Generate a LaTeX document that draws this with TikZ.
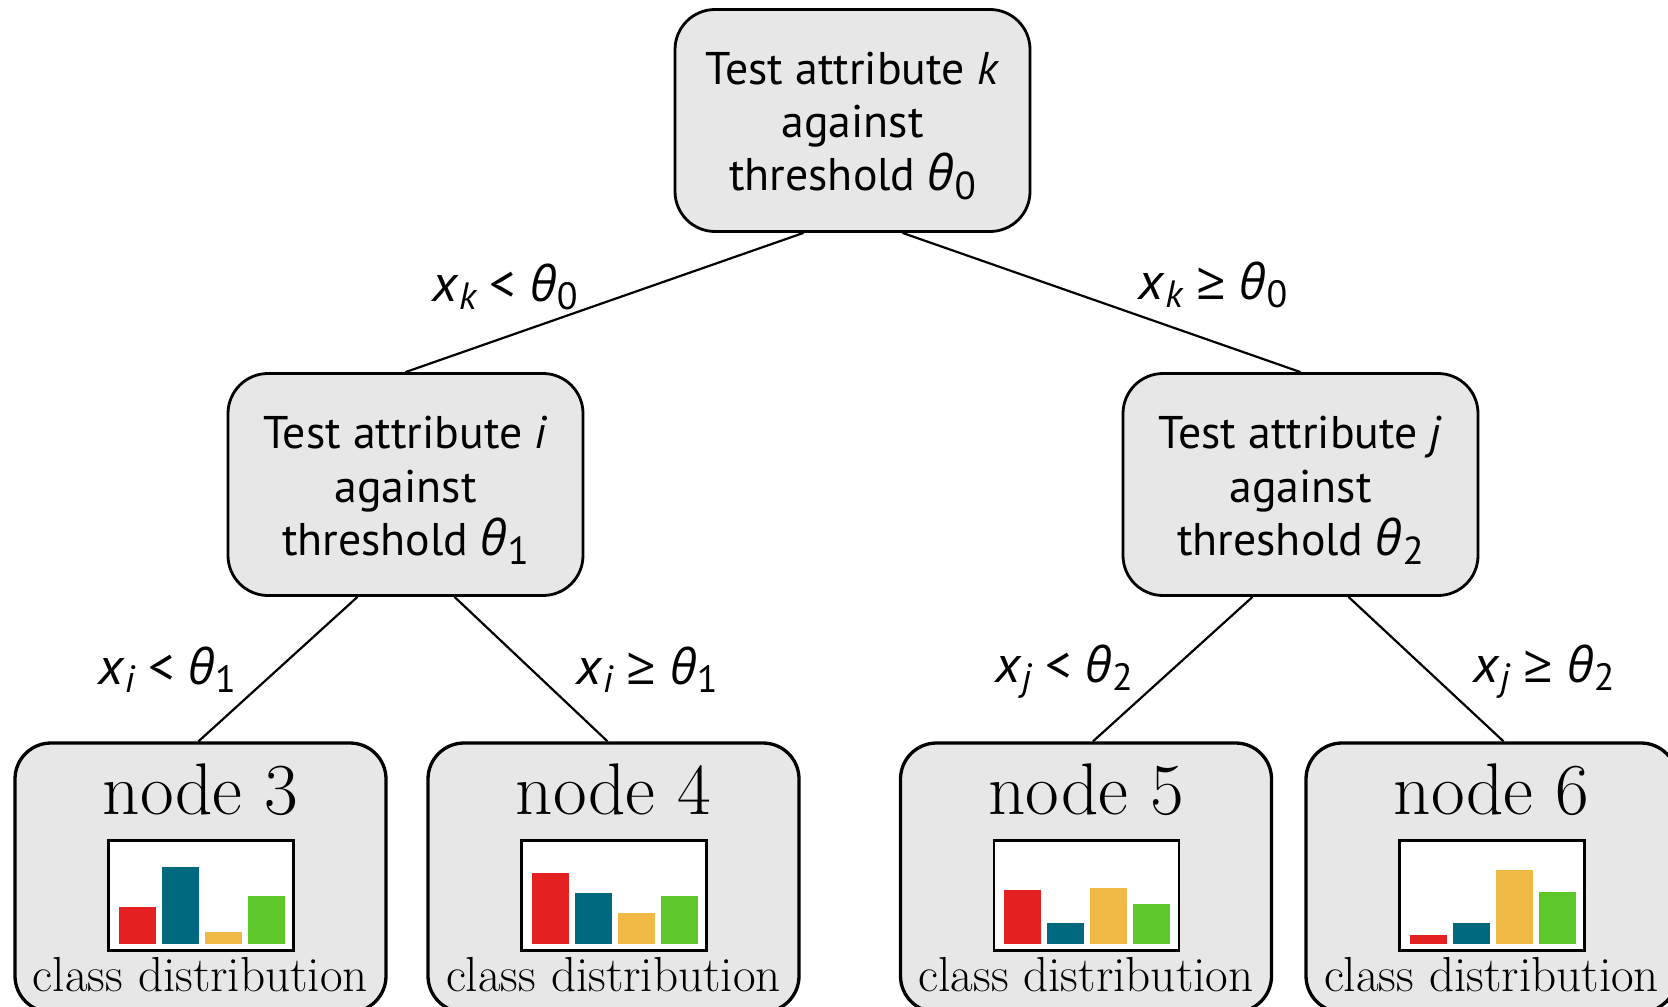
\documentclass[tikz,border=0pt]{standalone}
\usepackage{fontspec}
\usetikzlibrary{calc}
\newfontfamily\ptsans{PT Sans}
\newfontfamily\grk{Open Sans}
\definecolor{boxgray}{HTML}{E7E7E7}
\definecolor{barred}{HTML}{E42120}
\definecolor{barteal}{HTML}{00687F}
\definecolor{baryellow}{HTML}{F0B945}
\definecolor{bargreen}{HTML}{5EC72A}
% theta with subscript inside the test boxes
\newcommand\boxtheta[1]{{\grk\itshape\fontsize{24.5}{24.5}\selectfont θ}\raisebox{-4.5pt}{\fontsize{19.5}{19.5}\selectfont #1}}
% theta and variables with subscripts on the branch labels
\newcommand\lbltheta[1]{{\grk\itshape\fontsize{24.5}{24.5}\selectfont θ}\raisebox{-4pt}{\fontsize{19}{19}\selectfont #1}}
\newcommand\lblx[1]{\textit{x}\raisebox{-4pt}{\fontsize{19}{19}\selectfont\itshape #1}}
\newcommand\geqsym{{\grk ≥}}
% strut that lowers the three-line text a little inside a test box
\newcommand\topstrut{\rule{0pt}{22pt}}
% small bar chart of the class distribution inside a leaf
\newcommand\classchart[5]{%
  \draw[chartframe] ($(#1.north)+(-92,99)$) rectangle ($(#1.north)+(93,209)$);
  \fill[barred]    ($(#1.north)+(-82,203)$) rectangle ($(#1.north)+(-45,203-#2)$);
  \fill[barteal]   ($(#1.north)+(-39,203)$) rectangle ($(#1.north)+(-2,203-#3)$);
  \fill[baryellow] ($(#1.north)+(4,203)$)   rectangle ($(#1.north)+(41,203-#4)$);
  \fill[bargreen]  ($(#1.north)+(47,203)$)  rectangle ($(#1.north)+(84,203-#5)$);
}
\newcommand\leafcontent[2]{%
  \node[anchor=base, font=\fontsize{36.6}{36.6}\selectfont, inner sep=0pt] (#1title) at ($(#1.north)+(0,73)$) {#2};
  \node[anchor=base, font=\fontsize{24.6}{24.6}\selectfont, inner sep=0pt] (#1caption) at ($(#1.north)+(0,250)$) {class distribution};
}
\tikzset{
  testbox/.style={draw, line width=1.4pt, fill=boxgray, rounded corners=20pt,
    minimum width=177.5pt, minimum height=111pt, align=center, inner sep=0pt,
    font=\ptsans\fontsize{22.9}{26.6}\selectfont},
  leafbox/.style={draw, line width=1.65pt, fill=boxgray, rounded corners=18pt,
    minimum width=185.5pt, minimum height=134.5pt, inner sep=0pt},
  edge/.style={line width=1.1pt},
  chartframe/.style={draw, fill=white, line width=1.3pt},
  branch/.style={inner sep=0pt, font=\ptsans\fontsize{26}{30}\selectfont},
}
\begin{document}
\begin{tikzpicture}[x=0.5pt,y=-0.5pt]
\useasboundingbox (0,0) rectangle (1668,1006);
\fill[white] (0,0) rectangle (1668,1006);
\clip (0,0) rectangle (1668,1006);

% decision nodes
\node[testbox] (root) at (852.5,120.5) {\topstrut Test attribute \textit{k}\\against\\threshold \boxtheta{0}};
\node[testbox] (ni) at (405.5,484.5) {\topstrut Test attribute \textit{i}\\against\\threshold \boxtheta{1}};
\node[testbox] (nj) at (1300.5,484.5) {\topstrut Test attribute \textit{j}\\against\\threshold \boxtheta{2}};

% leaves
\node[leafbox] (n3) at (200.5,877.5) {};
\node[leafbox] (n4) at (613.5,877.5) {};
\node[leafbox] (n5) at (1086,877.5) {};
\node[leafbox] (n6) at (1491.5,877.5) {};

% branches
\draw[edge] ($(root.south)+(-49,0)$) -- (ni.north);
\draw[edge] ($(root.south)+(50,0)$) -- (nj.north);
\draw[edge] ($(ni.south)+(-48,0)$) -- ($(n3.north)+(-2,0)$);
\draw[edge] ($(ni.south)+(49,0)$) -- ($(n4.north)+(-6,0)$);
\draw[edge] ($(nj.south)+(-48,0)$) -- ($(n5.north)+(7,0)$);
\draw[edge] ($(nj.south)+(48,0)$) -- ($(n6.north)+(12,0)$);

% branch conditions
\node[branch] (b0l) at (505,287) {\lblx{k} < \lbltheta{0}};
\node[branch] (b0r) at (1213,285) {\lblx{k} \geqsym{} \lbltheta{0}};
\node[branch] (b1l) at (167,670) {\lblx{i} < \lbltheta{1}};
\node[branch] (b1r) at (647,670) {\lblx{i} \geqsym{} \lbltheta{1}};
\node[branch] (b2l) at (1064,672) {\lblx{j} < \lbltheta{2}};
\node[branch] (b2r) at (1544,672) {\lblx{j} \geqsym{} \lbltheta{2}};

% leaf contents
\leafcontent{n3}{node 3}
\leafcontent{n4}{node 4}
\leafcontent{n5}{node 5}
\leafcontent{n6}{node 6}
\classchart{n3}{37}{77}{12}{48}
\classchart{n4}{71}{51}{31}{48}
\classchart{n5}{54}{21}{56}{40}
\classchart{n6}{9}{21}{74}{52}
\end{tikzpicture}
\end{document}
